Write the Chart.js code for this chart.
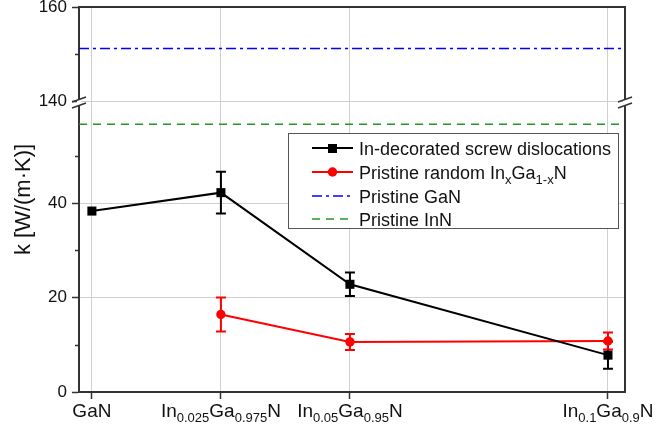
<!DOCTYPE html>
<html>
<head>
<meta charset="utf-8">
<script src="https://cdn.jsdelivr.net/npm/chart.js@4.4.1/dist/chart.umd.min.js"></script>
<style>
  html, body { margin: 0; padding: 0; background: #fff; }
  canvas { display: block; }
</style>
</head>
<body>
<canvas id="chart" width="660" height="432"></canvas>
<script>
// x axis: In fraction of each composition
const composition = [0, 0.025, 0.05, 0.1];
const compositionLabels = ['GaN', 'In_{0.025}Ga_{0.975}N', 'In_{0.05}Ga_{0.95}N', 'In_{0.1}Ga_{0.9}N'];

// In-decorated screw dislocations
const dislocationK = [38.3, 42.2, 22.8, 7.8];
const dislocationErr = [0, 4.4, 2.5, 2.9];

// pristine random InxGa1-xN
const randomX = [0.025, 0.05, 0.1];
const randomK = [16.4, 10.6, 10.8];
const randomErr = [3.6, 1.7, 1.8];

// pristine bulk references
const pristineGaN = 151.2;
const pristineInN = 56.7;

const yTicks = [0, 20, 40, 140, 160];
const yMinorTicks = [10, 30, 50, 150];

const legendItems = [
    { text: 'In-decorated screw dislocations', color: '#000000', marker: 'rect' },
    { text: 'Pristine random In_{x}Ga_{1-x}N', color: '#ff0000', marker: 'circle' },
    { text: 'Pristine GaN', color: '#0000ff', dash: [10, 4, 3, 4] },
    { text: 'Pristine InN', color: '#1f9a1f', dash: [8, 6] }
];

// broken y axis: 0..60 then 140..160
const LOW_TOP = 60, HIGH_BOTTOM = 140, HIGH_TOP = 160, GAP = 1.5;
const toAxis = v => v > LOW_TOP ? v - HIGH_BOTTOM + LOW_TOP + GAP : v;
const fromAxis = d => d > LOW_TOP ? d - LOW_TOP - GAP + HIGH_BOTTOM : d;

const X_MIN = -0.0025, X_MAX = 0.1033;
const FONT = 'Arial, "Liberation Sans", sans-serif';
const AXIS_COLOR = '#333333';

function richParts(s) {
    const parts = [];
    const re = /_\{([^}]*)\}/g;
    let last = 0, m;
    while ((m = re.exec(s))) {
        if (m.index > last) parts.push({ t: s.slice(last, m.index), sub: false });
        parts.push({ t: m[1], sub: true });
        last = re.lastIndex;
    }
    if (last < s.length) parts.push({ t: s.slice(last), sub: false });
    return parts;
}

function drawRich(ctx, s, x, y, size, align) {
    const parts = richParts(s);
    const subSize = Math.round(size * 0.7);
    let width = 0;
    parts.forEach(p => {
        ctx.font = (p.sub ? subSize : size) + 'px ' + FONT;
        p.w = ctx.measureText(p.t).width;
        width += p.w;
    });
    let cx = align === 'center' ? x - width / 2 : x;
    ctx.textAlign = 'left';
    ctx.textBaseline = 'alphabetic';
    parts.forEach(p => {
        ctx.font = (p.sub ? subSize : size) + 'px ' + FONT;
        ctx.fillText(p.t, cx, p.sub ? y + size * 0.28 : y);
        cx += p.w;
    });
}

const decorations = {
    id: 'decorations',
    beforeDraw(chart) {
        const ctx = chart.ctx;
        ctx.save();
        ctx.fillStyle = '#ffffff';
        ctx.fillRect(0, 0, chart.width, chart.height);
        ctx.restore();
    },
    beforeDatasetsDraw(chart) {
        // error bars
        const ctx = chart.ctx;
        const ys = chart.scales.y;
        ctx.save();
        chart.data.datasets.forEach((ds, i) => {
            if (!ds.errors) return;
            const meta = chart.getDatasetMeta(i);
            ctx.strokeStyle = ds.borderColor;
            ctx.lineWidth = 2;
            meta.data.forEach((pt, j) => {
                const e = ds.errors[j];
                if (!e) return;
                const v = ds.values[j];
                const yt = ys.getPixelForValue(toAxis(v + e));
                const yb = ys.getPixelForValue(toAxis(v - e));
                ctx.beginPath();
                ctx.moveTo(pt.x, yt); ctx.lineTo(pt.x, yb);
                ctx.moveTo(pt.x - 5, yt); ctx.lineTo(pt.x + 5, yt);
                ctx.moveTo(pt.x - 5, yb); ctx.lineTo(pt.x + 5, yb);
                ctx.stroke();
            });
        });
        ctx.restore();
    },
    afterDraw(chart) {
        const ctx = chart.ctx;
        const a = chart.chartArea;
        const xs = chart.scales.x, ys = chart.scales.y;
        ctx.save();

        // top and right frame
        ctx.strokeStyle = AXIS_COLOR;
        ctx.lineWidth = 2;
        ctx.beginPath();
        ctx.moveTo(a.left, a.top); ctx.lineTo(a.right, a.top); ctx.lineTo(a.right, a.bottom);
        ctx.stroke();

        // minor y ticks
        ctx.lineWidth = 1.5;
        ctx.beginPath();
        yMinorTicks.forEach(v => {
            const y = Math.round(ys.getPixelForValue(toAxis(v))) + 0.5;
            ctx.moveTo(a.left - 4, y); ctx.lineTo(a.left, y);
        });
        ctx.stroke();

        // axis break marks
        const yBreak = ys.getPixelForValue(LOW_TOP + GAP);
        [a.left, a.right].forEach(x => {
            ctx.fillStyle = '#ffffff';
            ctx.fillRect(x - 2, yBreak - 2, 4, 6);
            ctx.strokeStyle = AXIS_COLOR;
            ctx.lineWidth = 1.5;
            ctx.beginPath();
            [yBreak - 2, yBreak + 4].forEach(y => {
                ctx.moveTo(x - 7, y + 2.5); ctx.lineTo(x + 7, y - 2.5);
            });
            ctx.stroke();
        });

        // x labels with subscripts
        ctx.fillStyle = '#111111';
        composition.forEach((c, i) => {
            drawRich(ctx, compositionLabels[i], xs.getPixelForValue(c), a.bottom + 25, 19, 'center');
        });

        // legend
        const L = { left: 288, top: 133, width: 330, height: 95 };
        const rows = [148, 172, 196, 219];
        ctx.fillStyle = '#ffffff';
        ctx.fillRect(L.left, L.top, L.width, L.height);
        ctx.strokeStyle = '#555555';
        ctx.lineWidth = 1;
        ctx.strokeRect(L.left + 0.5, L.top + 0.5, L.width, L.height);
        legendItems.forEach((it, i) => {
            const y = rows[i];
            ctx.strokeStyle = it.color;
            ctx.fillStyle = it.color;
            ctx.lineWidth = it.dash ? 1.5 : 2;
            ctx.setLineDash(it.dash || []);
            ctx.beginPath();
            ctx.moveTo(312, y); ctx.lineTo(353, y);
            ctx.stroke();
            ctx.setLineDash([]);
            if (it.marker === 'rect') ctx.fillRect(328, y - 4, 9, 9);
            if (it.marker === 'circle') {
                ctx.beginPath(); ctx.arc(332.5, y, 4.7, 0, Math.PI * 2); ctx.fill();
            }
            ctx.fillStyle = '#111111';
            drawRich(ctx, it.text, 359, y + 6.5, 18, 'left');
        });
        ctx.restore();
    }
};

new Chart(document.getElementById('chart'), {
    type: 'line',
    data: {
        datasets: [
            {
                label: 'In-decorated screw dislocations',
                data: composition.map((x, i) => ({ x: x, y: toAxis(dislocationK[i]) })),
                values: dislocationK,
                errors: dislocationErr,
                borderColor: '#000000',
                backgroundColor: '#000000',
                borderWidth: 2,
                pointStyle: 'rect',
                pointRadius: 6.4,
                pointBorderWidth: 0
            },
            {
                label: 'Pristine random InxGa1-xN',
                data: randomX.map((x, i) => ({ x: x, y: toAxis(randomK[i]) })),
                values: randomK,
                errors: randomErr,
                borderColor: '#ff0000',
                backgroundColor: '#ff0000',
                borderWidth: 2,
                pointStyle: 'circle',
                pointRadius: 4.7,
                pointBorderWidth: 0
            },
            {
                label: 'Pristine GaN',
                data: [{ x: X_MIN, y: toAxis(pristineGaN) }, { x: X_MAX, y: toAxis(pristineGaN) }],
                borderColor: '#0000ff',
                borderWidth: 1.5,
                borderDash: [10, 4, 3, 4],
                pointRadius: 0
            },
            {
                label: 'Pristine InN',
                data: [{ x: X_MIN, y: toAxis(pristineInN) }, { x: X_MAX, y: toAxis(pristineInN) }],
                borderColor: '#1f9a1f',
                borderWidth: 1.5,
                borderDash: [8, 6],
                pointRadius: 0
            }
        ]
    },
    options: {
        responsive: false,
        animation: false,
        events: [],
        layout: { padding: { left: 0, right: 35, top: 7, bottom: 0 } },
        plugins: {
            legend: { display: false },
            tooltip: { enabled: false }
        },
        scales: {
            x: {
                type: 'linear',
                min: X_MIN,
                max: X_MAX,
                afterBuildTicks: scale => { scale.ticks = composition.map(v => ({ value: v })); },
                afterFit: scale => {
                    scale.height = 40;
                    scale.paddingLeft = 0; scale.paddingRight = 0;
                },
                ticks: { display: false },
                grid: {
                    color: '#d0d0d0',
                    lineWidth: 1,
                    tickColor: AXIS_COLOR,
                    tickWidth: 1.5,
                    tickLength: 7
                },
                border: { color: AXIS_COLOR, width: 2 }
            },
            y: {
                type: 'linear',
                min: 0,
                max: toAxis(HIGH_TOP),
                afterBuildTicks: scale => { scale.ticks = yTicks.map(v => ({ value: toAxis(v) })); },
                afterFit: scale => {
                    scale.width = 79;
                    scale.paddingTop = 0; scale.paddingBottom = 0;
                },
                ticks: {
                    color: '#111111',
                    padding: 5,
                    font: { size: 17, family: FONT },
                    callback: v => String(Math.round(fromAxis(v)))
                },
                grid: {
                    color: ctx => (ctx.tick && (ctx.tick.value === 0 || ctx.tick.value === toAxis(HIGH_TOP))) ? 'rgba(0,0,0,0)' : '#d0d0d0',
                    lineWidth: 1,
                    tickColor: AXIS_COLOR,
                    tickWidth: 1.5,
                    tickLength: 7
                },
                border: { color: AXIS_COLOR, width: 2 },
                title: {
                    display: true,
                    text: 'k [W/(m\u00b7K)]',
                    color: '#111111',
                    font: { size: 22, family: FONT },
                    padding: { top: 11, bottom: 0 }
                }
            }
        }
    },
    plugins: [decorations]
});
</script>
</body>
</html>
